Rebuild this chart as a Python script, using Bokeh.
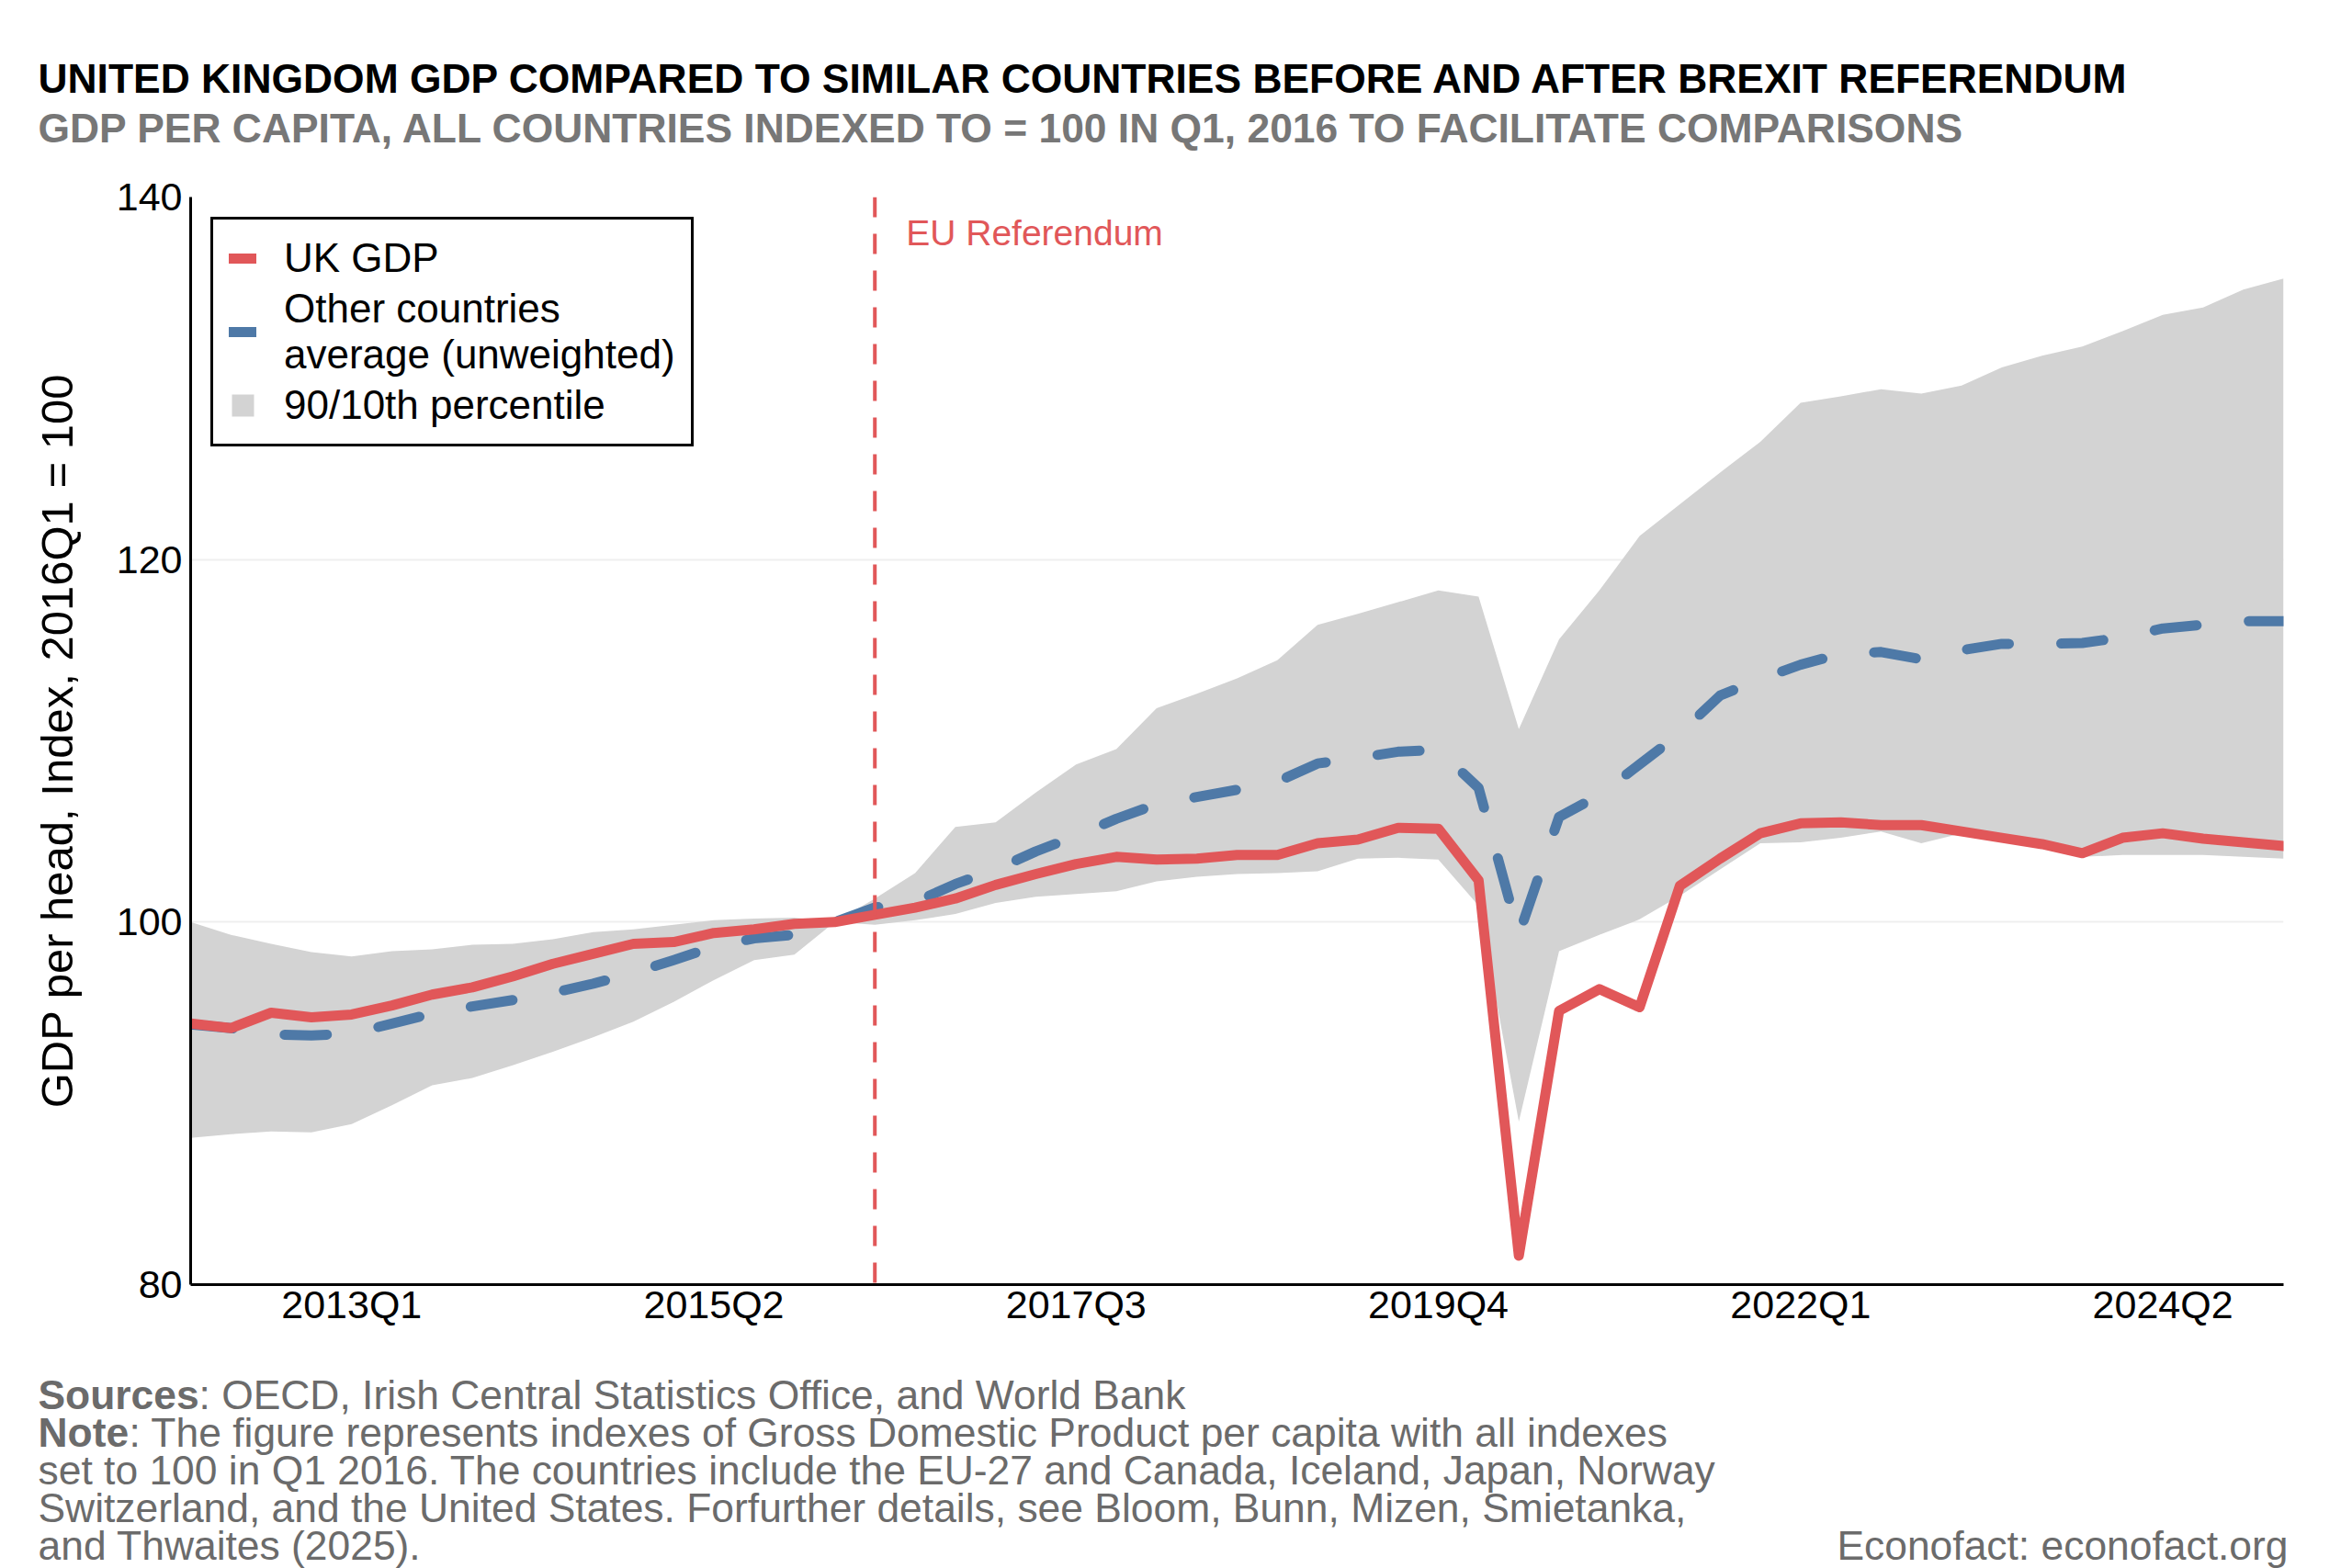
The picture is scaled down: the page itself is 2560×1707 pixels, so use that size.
from bokeh.embed import file_html
from bokeh.layouts import column
from bokeh.models import FixedTicker, Label, Legend, LegendItem, Range1d, Span, ColumnDataSource
from bokeh.plotting import figure
from bokeh.resources import INLINE

# quarters 2012Q1 .. 2025Q1
quarters = [f"{y}Q{q}" for y in range(2012, 2026) for q in range(1, 5)][:53]
tick_labels = ["2013Q1", "2015Q2", "2017Q3", "2019Q4", "2022Q1", "2024Q2"]
y_ticks = [80, 100, 120, 140]
referendum = "2016Q2"

uk_gdp = [94.4, 94.15, 95.0, 94.75, 94.9, 95.4, 96.0, 96.4, 97.0, 97.7,
          98.25, 98.8, 98.9, 99.4, 99.6, 99.9, 100.0, 100.4, 100.8, 101.3,
          102.05, 102.65, 103.2, 103.6, 103.45, 103.5, 103.7, 103.7, 104.35, 104.55,
          105.2, 105.15, 102.3, 81.6, 95.1, 96.3, 95.3, 102.0, 103.5, 104.9,
          105.45, 105.5, 105.35, 105.35, 105.0, 104.65, 104.3, 103.8, 104.65, 104.9,
          104.6, 104.4, 104.2]

others_avg = [94.35, 94.15, 93.8, 93.75, 93.85, 94.4, 94.95, 95.35, 95.7, 96.1,
              96.6, 97.2, 97.9, 98.65, 99.1, 99.3, 100.0, 100.8, 101.1, 102.1,
              102.9, 103.9, 104.75, 105.7, 106.5, 106.9, 107.3, 107.75, 108.75, 109.05,
              109.4, 109.5, 107.4, 99.3, 105.8, 107.0, 108.7, 110.4, 112.5, 113.4,
              114.2, 114.8, 114.9, 114.5, 115.0, 115.35, 115.35, 115.4, 115.7, 116.2,
              116.4, 116.6, 116.6]

p10 = [88.1, 88.3, 88.45, 88.4, 88.85, 89.9, 91.0, 91.4, 92.1, 92.85,
       93.65, 94.5, 95.6, 96.8, 97.9, 98.2, 100.0, 99.85, 100.1, 100.45,
       101.05, 101.4, 101.55, 101.7, 102.25, 102.5, 102.65, 102.7, 102.8, 103.5,
       103.55, 103.45, 100.9, 89.0, 98.4, 99.3, 100.15, 101.45, 102.9, 104.35,
       104.4, 104.65, 105.0, 104.35, 104.9, 104.5, 104.1, 103.6, 103.7, 103.7,
       103.7, 103.6, 103.5]

p90 = [100.0, 99.3, 98.8, 98.35, 98.1, 98.4, 98.5, 98.75, 98.8, 99.05,
       99.45, 99.6, 99.85, 100.1, 100.2, 100.25, 100.0, 101.3, 102.7, 105.25,
       105.5, 107.15, 108.7, 109.55, 111.8, 112.6, 113.45, 114.45, 116.4, 117.0,
       117.65, 118.3, 117.95, 110.65, 115.6, 118.3, 121.3, 123.05, 124.8, 126.5,
       128.65, 129.0, 129.4, 129.15, 129.6, 130.6, 131.25, 131.75, 132.6, 133.5,
       133.9, 134.9, 135.5]

title = "UNITED KINGDOM GDP COMPARED TO SIMILAR COUNTRIES BEFORE AND AFTER BREXIT REFERENDUM"
subtitle = "GDP PER CAPITA, ALL COUNTRIES INDEXED TO = 100 IN Q1, 2016 TO FACILITATE COMPARISONS"
notes = [
    ("Sources", ": OECD, Irish Central Statistics Office, and World Bank"),
    ("Note", ": The figure represents indexes of Gross Domestic Product per capita with all indexes"),
    ("", "set to 100 in Q1 2016. The countries include the EU-27 and Canada, Iceland, Japan, Norway"),
    ("", "Switzerland, and the United States. Forfurther details, see Bloom, Bunn, Mizen, Smietanka,"),
    ("", "and Thwaites (2025)."),
]
credit = "Econofact: econofact.org"

RED = "#E15759"
BLUE = "#4E79A7"
BAND = "#D3D3D3"
GREY = "#6b6b6b"
FONT = "Liberation Sans"

W = 2560
HEAD_H = 180
MAIN_H = 1298
FOOT_H = 1707 - HEAD_H - MAIN_H
TEXT_X = 41


def text_panel(height):
    # blank figure whose data units are pixels, y counted from the top
    f = figure(width=W, height=height, x_range=Range1d(0, W), y_range=Range1d(height, 0),
               x_axis_type=None, y_axis_type=None, output_backend="svg",
               toolbar_location=None, min_border=0, frame_align=False)
    f.outline_line_color = None
    f.grid.visible = False
    return f


# header
head = text_panel(HEAD_H)
head.add_layout(Label(x=TEXT_X, y=85, text=title, text_font=FONT, text_font_style="bold",
                      text_font_size="44.4px", text_color="black", text_baseline="middle"))
head.add_layout(Label(x=TEXT_X, y=139, text=subtitle, text_font=FONT, text_font_style="bold",
                      text_font_size="44.4px", text_color="#777777", text_baseline="middle"))

# main chart
source = ColumnDataSource(data={
    'x': list(range(len(quarters))),
    'uk': uk_gdp,
    'avg': others_avg,
    'lo': p10,
    'hi': p90,
})

p = figure(
    width=W, height=MAIN_H,
    x_range=Range1d(0, len(quarters) - 1), y_range=Range1d(80, 140),
    output_backend="svg", toolbar_location=None, frame_align=False,
    min_border_left=207, min_border_right=75, min_border_top=34, min_border_bottom=80,
)
p.outline_line_color = None
p.xgrid.grid_line_color = None
p.ygrid.grid_line_color = "#efefef"
p.ygrid.grid_line_width = 2

band = p.varea(x='x', y1='lo', y2='hi', source=source, fill_color=BAND)
avg = p.line(x='x', y='avg', source=source, line_color=BLUE, line_width=11,
             line_dash="46 57", line_cap="round", line_join="round")
uk = p.line(x='x', y='uk', source=source, line_color=RED, line_width=11,
            line_cap="round", line_join="round")

p.add_layout(Span(location=quarters.index(referendum), dimension="height",
                  line_color=RED, line_width=4, line_dash="22 18"))
p.add_layout(Label(x=quarters.index(referendum), y=138, x_offset=34, text="EU Referendum",
                   text_color=RED, text_font=FONT, text_font_size="39px", text_baseline="middle"))

p.xaxis.ticker = FixedTicker(ticks=[quarters.index(t) for t in tick_labels])
p.xaxis.major_label_overrides = {quarters.index(t): t for t in tick_labels}
p.yaxis.ticker = FixedTicker(ticks=y_ticks)
p.yaxis.axis_label = "GDP per head, Index, 2016Q1 = 100"
p.yaxis.axis_label_text_font = FONT
p.yaxis.axis_label_text_font_size = "49px"
p.yaxis.axis_label_text_font_style = "normal"
p.yaxis.axis_label_text_color = "black"
p.yaxis.axis_label_standoff = 35
for ax in (p.xaxis, p.yaxis):
    ax.axis_line_color = "black"
    ax.axis_line_width = 3
    ax.major_tick_out = 0
    ax.major_tick_in = 0
    ax.minor_tick_out = 0
    ax.minor_tick_in = 0
    ax.major_label_text_font = FONT
    ax.major_label_text_font_size = "43px"
    ax.major_label_text_color = "black"
p.xaxis.major_label_standoff = -3
p.yaxis.major_label_standoff = 9

legend = Legend(items=[
    LegendItem(label="UK GDP", renderers=[uk]),
    LegendItem(label="Other countries\naverage (unweighted)", renderers=[avg]),
    LegendItem(label="90/10th percentile", renderers=[band]),
], location="top_left")
legend.margin = 22
legend.padding = 17
legend.spacing = 5
legend.glyph_width = 30
legend.glyph_height = 30
legend.label_standoff = 30
legend.label_height = 50
legend.label_text_font = FONT
legend.label_text_font_size = "44px"
legend.label_text_color = "black"
legend.label_text_line_height = 0.95
legend.border_line_color = "black"
legend.border_line_alpha = 1
legend.border_line_width = 3
legend.background_fill_alpha = 1
p.add_layout(legend)

# footer
foot = text_panel(FOOT_H)
bold_width = {"Sources": 175, "Note": 99, "": 0}
for i, (lead, rest) in enumerate(notes):
    y = 40 + 41 * i
    if lead:
        foot.add_layout(Label(x=TEXT_X, y=y, text=lead, text_font=FONT, text_font_style="bold",
                              text_font_size="44.4px", text_color=GREY, text_baseline="middle"))
    foot.add_layout(Label(x=TEXT_X + bold_width[lead], y=y, text=rest, text_font=FONT,
                          text_font_size="44.4px", text_color=GREY, text_baseline="middle"))
foot.add_layout(Label(x=2490, y=40 + 41 * 4, text=credit, text_font=FONT, text_font_size="44.4px",
                      text_color=GREY, text_align="right", text_baseline="middle"))

page = column(head, p, foot, spacing=0)
open("out.html", "w").write(file_html(page, INLINE))
